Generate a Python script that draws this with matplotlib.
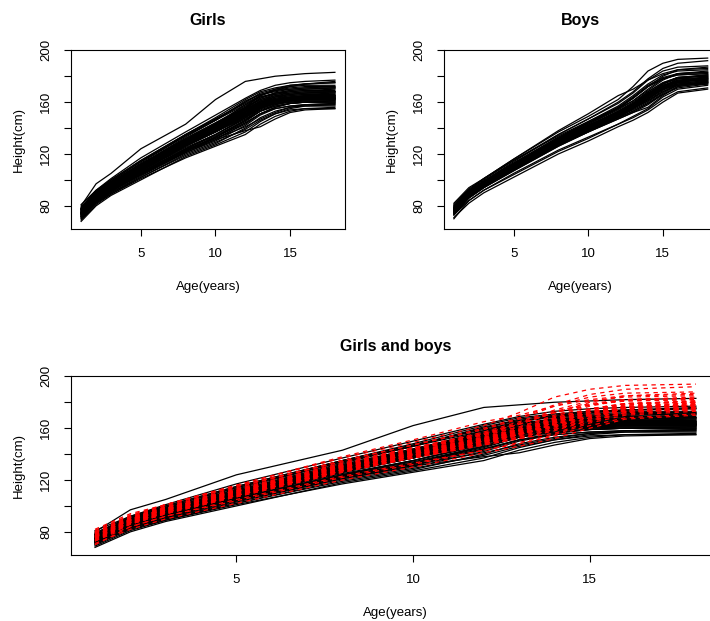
import matplotlib
matplotlib.use('Agg')
import matplotlib.pyplot as plt
import numpy as np

plt.rcParams['font.family'] = ['Liberation Sans', 'DejaVu Sans']

# ages (years) at which heights were read
ages = [1, 2, 3, 5, 8, 10, 12, 13, 14, 15, 16, 18]

# girls heights (cm), one row per child
girls = [
	[80, 97, 105, 124, 143, 162, 176, 178, 180, 181, 182, 183],
	[79, 92, 101, 117, 137, 150, 163, 169, 173, 175, 176, 177],
	[78, 91, 99, 114, 135, 148, 162, 168, 171, 173, 174, 175],
	[77, 90, 98, 113, 134, 146, 160, 167, 170, 172, 173, 173],
	[76, 89, 97, 112, 133, 146, 161, 166, 168, 170, 171, 172],
	[81, 92, 100, 115, 135, 147, 159, 165, 169, 172, 174, 176],
	[75, 88, 96, 110, 131, 143, 158, 165, 169, 171, 172, 172],
	[78, 90, 98, 112, 131, 142, 156, 165, 170, 173, 174, 175],
	[71, 83, 91, 104, 122, 131, 138, 141, 147, 152, 154, 155],
	[70, 82, 89, 101, 117, 126, 135, 143, 149, 153, 155, 156],
	[68, 80, 88, 100, 118, 127, 137, 145, 151, 154, 155, 155],
	[72, 83, 90, 102, 119, 128, 140, 148, 153, 156, 157, 157],
	[69, 81, 89, 102, 120, 129, 139, 146, 151, 155, 157, 158],
	[73, 84, 92, 104, 121, 130, 142, 150, 155, 157, 158, 158],
	[71, 82, 90, 103, 121, 131, 144, 151, 155, 157, 158, 159],
	[70, 83, 91, 104, 122, 132, 141, 147, 152, 156, 158, 159],
	[72, 84, 92, 105, 123, 133, 144, 151, 156, 159, 160, 161],
	[74, 85, 92, 105, 123, 132, 143, 151, 156, 159, 160, 160],
	[74, 86, 94, 108, 127, 138, 150, 157, 161, 163, 164, 165],
	[73, 85, 93, 106, 124, 135, 148, 155, 159, 161, 162, 162],
	[77, 90, 98, 112, 132, 144, 156, 162, 165, 166, 167, 168],
	[75, 87, 95, 109, 129, 141, 154, 160, 163, 164, 165, 165],
	[74, 86, 94, 107, 126, 137, 149, 156, 160, 162, 163, 163],
	[76, 88, 96, 110, 130, 142, 155, 162, 166, 168, 169, 170],
	[73, 84, 92, 105, 123, 133, 146, 153, 157, 159, 160, 160],
	[75, 88, 96, 110, 129, 140, 153, 160, 164, 166, 167, 168],
	[74, 87, 95, 108, 127, 138, 151, 158, 162, 164, 165, 166],
	[77, 89, 97, 111, 131, 143, 156, 163, 167, 169, 170, 171],
	[75, 86, 94, 107, 126, 137, 150, 158, 162, 164, 165, 165],
	[73, 86, 94, 108, 128, 140, 152, 158, 161, 162, 163, 163],
	[76, 88, 96, 110, 129, 140, 151, 157, 161, 163, 164, 164],
	[72, 84, 91, 104, 122, 133, 146, 155, 159, 161, 162, 162],
	[78, 90, 98, 112, 132, 144, 157, 164, 167, 168, 169, 169],
	[74, 86, 94, 108, 127, 138, 149, 155, 159, 161, 162, 163],
	[75, 87, 95, 109, 128, 139, 152, 159, 163, 165, 166, 167],
	[77, 89, 97, 111, 130, 141, 153, 159, 162, 163, 164, 164],
	[73, 85, 92, 105, 123, 133, 145, 153, 158, 161, 162, 162],
	[76, 88, 96, 110, 130, 142, 155, 163, 167, 169, 170, 171],
	[74, 87, 95, 109, 128, 139, 150, 156, 159, 160, 161, 161],
	[72, 85, 93, 106, 124, 135, 148, 156, 160, 162, 163, 163],
	[78, 91, 99, 114, 134, 146, 158, 164, 166, 167, 168, 168],
	[75, 86, 94, 107, 125, 135, 147, 154, 158, 160, 161, 161],
	[76, 89, 97, 111, 131, 142, 154, 161, 165, 167, 168, 168],
	[74, 86, 94, 108, 127, 139, 152, 159, 162, 163, 164, 164],
	[73, 85, 93, 107, 126, 137, 149, 157, 161, 163, 164, 165],
	[77, 90, 98, 112, 131, 143, 155, 160, 162, 163, 164, 164],
	[75, 87, 95, 109, 127, 137, 148, 155, 159, 161, 162, 162],
	[79, 91, 100, 115, 135, 147, 160, 166, 169, 170, 171, 171],
	[74, 86, 94, 108, 128, 140, 153, 160, 164, 166, 167, 167],
	[76, 88, 96, 109, 128, 139, 150, 156, 160, 162, 163, 163],
	[72, 84, 92, 106, 124, 134, 146, 153, 157, 159, 160, 160],
	[75, 88, 96, 110, 130, 141, 154, 161, 164, 165, 166, 166],
	[77, 89, 97, 111, 130, 141, 152, 158, 161, 162, 163, 163],
	[74, 87, 95, 108, 127, 138, 150, 157, 161, 163, 164, 164],
]

# boys heights (cm), one row per child
boys = [
	[81, 93, 101, 116, 137, 149, 162, 172, 184, 190, 193, 194],
	[79, 91, 99, 114, 135, 147, 160, 168, 178, 186, 190, 192],
	[77, 89, 97, 111, 131, 142, 152, 158, 166, 174, 179, 181],
	[76, 88, 96, 109, 128, 139, 149, 155, 161, 168, 173, 176],
	[73, 84, 92, 104, 122, 132, 143, 149, 155, 164, 170, 173],
	[78, 90, 98, 112, 132, 144, 155, 163, 172, 178, 181, 182],
	[75, 87, 95, 108, 127, 138, 148, 153, 159, 166, 171, 174],
	[80, 92, 101, 116, 138, 151, 165, 170, 177, 182, 185, 186],
	[76, 88, 96, 110, 130, 141, 151, 157, 165, 172, 176, 178],
	[71, 82, 90, 102, 120, 130, 141, 146, 152, 160, 167, 170],
	[77, 90, 98, 111, 131, 142, 153, 160, 168, 175, 179, 180],
	[78, 89, 97, 111, 130, 140, 150, 155, 161, 169, 175, 178],
	[75, 87, 95, 109, 128, 139, 150, 158, 167, 173, 176, 177],
	[79, 91, 99, 113, 133, 144, 155, 161, 169, 177, 182, 184],
	[73, 86, 94, 107, 126, 137, 147, 152, 158, 166, 172, 175],
	[76, 89, 97, 110, 129, 140, 151, 158, 166, 172, 175, 176],
	[77, 89, 97, 110, 129, 139, 148, 153, 159, 167, 173, 176],
	[80, 92, 100, 115, 135, 147, 159, 167, 177, 184, 187, 188],
	[74, 87, 95, 108, 127, 138, 149, 156, 164, 171, 174, 175],
	[78, 90, 98, 111, 131, 142, 153, 159, 166, 174, 179, 181],
	[75, 88, 96, 109, 128, 139, 149, 154, 160, 168, 174, 177],
	[77, 89, 97, 111, 131, 143, 155, 163, 172, 178, 181, 182],
	[70, 84, 92, 105, 123, 133, 143, 148, 154, 162, 168, 171],
	[76, 88, 96, 110, 130, 141, 152, 158, 165, 172, 177, 179],
	[79, 91, 99, 112, 132, 143, 154, 161, 170, 178, 182, 183],
	[76, 87, 95, 108, 127, 137, 147, 152, 156, 165, 172, 175],
	[77, 90, 98, 112, 132, 144, 156, 164, 173, 179, 182, 183],
	[74, 86, 94, 108, 127, 138, 149, 156, 163, 170, 174, 175],
	[78, 90, 98, 112, 131, 142, 152, 157, 164, 172, 178, 181],
	[75, 87, 95, 109, 129, 140, 151, 158, 166, 173, 177, 178],
	[82, 94, 101, 115, 134, 145, 156, 163, 172, 180, 185, 187],
	[76, 88, 96, 110, 129, 140, 150, 155, 162, 170, 176, 179],
	[73, 86, 94, 107, 126, 137, 148, 155, 163, 170, 173, 174],
	[77, 89, 97, 111, 130, 141, 152, 159, 167, 174, 178, 179],
	[78, 90, 98, 112, 131, 141, 151, 156, 162, 170, 176, 180],
	[75, 88, 96, 109, 128, 139, 150, 157, 165, 172, 176, 177],
	[76, 89, 97, 110, 130, 141, 152, 159, 168, 175, 179, 180],
	[79, 91, 99, 113, 133, 145, 157, 165, 174, 181, 184, 185],
	[74, 87, 95, 108, 128, 139, 150, 156, 163, 171, 176, 178],
]

ages = np.array(ages)
girls = np.array(girls)
boys = np.array(boys)

fig = plt.figure(figsize=(7.1, 6.21), dpi=100)

def style(ax, title):
	ax.set_xlim(0.32, 18.68)
	ax.set_ylim(62, 200)
	ax.set_xticks([5, 10, 15])
	ax.set_yticks([80, 120, 160, 200])
	ax.set_yticks([100, 140, 180], minor=True)
	ax.tick_params(which='both', direction='out', length=5, width=0.8, labelsize=9.5, pad=8.5)
	for lab in ax.get_yticklabels():
		lab.set_rotation(90)
		lab.set_va('center')
	ax.set_xlabel('Age(years)', fontsize=9.5, labelpad=15)
	ax.set_ylabel('Height(cm)', fontsize=9.5, labelpad=11)
	ax.set_title(title, fontsize=11.5, fontweight='bold', pad=18)
	for s in ax.spines.values():
		s.set_linewidth(0.8)

ax1 = fig.add_axes([0.1, 0.631, 0.386, 0.288])
for row in girls:
	ax1.plot(ages, row, color='black', lw=0.9)
style(ax1, 'Girls')

ax2 = fig.add_axes([0.625, 0.631, 0.386, 0.288])
for row in boys:
	ax2.plot(ages, row, color='black', lw=0.9)
style(ax2, 'Boys')

ax3 = fig.add_axes([0.1, 0.106, 0.914, 0.288])
for row in girls:
	ax3.plot(ages, row, color='black', lw=0.9)
for row in boys:
	ax3.plot(ages, row, color='red', lw=0.9, ls=(0, (3.5, 3.5)))
style(ax3, 'Girls and boys')

fig.savefig('out.png', dpi=100)
